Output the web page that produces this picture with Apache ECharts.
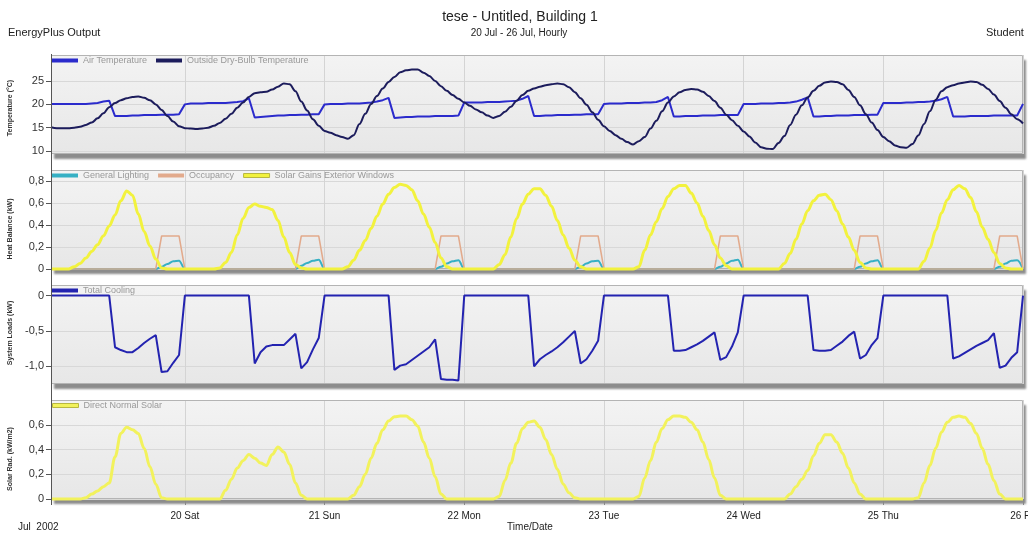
<!DOCTYPE html>
<html><head><meta charset="utf-8">
<script src="https://cdn.jsdelivr.net/npm/echarts@6/dist/echarts.min.js"></script>
<style>html,body{margin:0;padding:0;background:#fff}#c{width:1028px;height:534px}</style>
</head><body><div id="c"></div>
<script>
// ---- tick labels / categories ----
const dayLabels = ['20 Sat','21 Sun','22 Mon','23 Tue','24 Wed','25 Thu','26 Fri'];
const hours = []; for (let i = 1; i <= 168; i++) hours.push(String(i));
const tempTicks = [10, 15, 20, 25];
const heatTicks = [0, 0.2, 0.4, 0.6, 0.8];
const coolTicks = [-1, -0.5, 0];
const solarTicks = [0, 0.2, 0.4, 0.6];

// ---- series values (hourly, 7 days x 24) ----
const airTemperature = [
 20.1,20.1,20.1,20.1,20.1,20.1,20.1,20.2,20.3,20.6,20.8,17.5,17.5,17.5,17.6,17.6,17.7,17.7,17.7,17.8,17.8,17.8,17.9,20.0,
 20.2,20.2,20.2,20.3,20.3,20.3,20.3,20.4,20.5,20.7,21.3,17.2,17.3,17.4,17.5,17.6,17.6,17.7,17.7,17.8,17.8,17.9,17.9,20.0,
 20.1,20.1,20.1,20.2,20.2,20.2,20.3,20.4,20.6,20.9,21.4,17.1,17.2,17.3,17.3,17.4,17.4,17.4,17.5,17.5,17.5,17.5,17.6,20.4,
 20.4,20.4,20.4,20.5,20.5,20.5,20.6,20.7,20.8,21.2,21.8,17.5,17.5,17.6,17.6,17.7,17.7,17.7,17.8,17.8,17.9,17.9,17.9,20.1,
 20.2,20.2,20.2,20.3,20.3,20.3,20.4,20.4,20.5,20.9,21.6,17.4,17.4,17.5,17.5,17.5,17.6,17.6,17.6,17.7,17.7,17.7,17.7,20.1,
 20.1,20.1,20.2,20.2,20.2,20.3,20.3,20.4,20.6,21.0,21.5,17.4,17.4,17.5,17.5,17.6,17.6,17.6,17.7,17.7,17.7,17.8,17.8,20.3,
 20.3,20.3,20.3,20.4,20.4,20.5,20.5,20.6,20.8,21.1,21.6,17.4,17.4,17.4,17.5,17.5,17.5,17.5,17.6,17.6,17.6,17.6,17.6,20.1
];
const outsideDryBulb = [
 15.1,14.9,14.9,14.9,15.0,15.2,15.6,16.1,17.0,18.1,19.4,20.3,20.9,21.3,21.6,21.7,21.4,20.9,20.0,18.8,17.5,16.3,15.3,14.9,
 14.8,14.7,14.8,15.0,15.4,16.0,16.9,18.0,19.3,20.4,21.6,22.4,22.6,22.7,23.2,23.8,24.5,24.3,22.8,20.6,18.7,16.8,15.4,14.3,
 13.9,13.4,13.0,12.6,13.4,15.8,18.0,20.1,21.8,23.4,24.8,25.9,26.9,27.3,27.5,27.5,26.8,26.1,25.0,23.9,22.9,22.0,21.2,20.4,
 19.7,18.9,18.3,17.6,17.1,17.5,18.4,19.5,20.8,22.0,22.9,23.4,23.8,24.1,24.3,24.5,24.3,23.7,22.6,21.3,19.9,18.3,16.7,15.3,
 14.3,13.4,12.6,11.9,11.4,12.1,13.0,14.8,16.5,18.5,20.4,21.7,22.6,23.1,23.3,23.2,22.7,21.8,20.7,19.3,17.8,16.6,15.4,14.2,
 13.1,11.8,10.8,10.5,10.4,11.7,13.2,15.6,17.8,19.8,21.5,22.9,24.0,24.7,24.9,24.8,24.3,23.1,21.6,19.8,17.9,16.1,14.5,13.0,
 12.1,11.2,10.8,10.7,11.5,13.3,15.8,18.5,21.0,22.8,23.7,24.1,24.5,24.7,24.9,24.8,24.2,23.3,22.1,20.7,19.3,17.9,16.8,15.9
];
const generalLighting = [
 0,0,0,0,0,0,0,0,0,0,0,0,0,0,0,0,0,0,0,0.02,0.045,0.07,0.075,0,
 0,0,0,0,0,0,0,0,0,0,0,0,0,0,0,0,0,0,0,0.03,0.055,0.075,0.085,0,
 0,0,0,0,0,0,0,0,0,0,0,0,0,0,0,0,0,0,0,0.02,0.05,0.07,0.08,0,
 0,0,0,0,0,0,0,0,0,0,0,0,0,0,0,0,0,0,0,0.02,0.05,0.07,0.075,0,
 0,0,0,0,0,0,0,0,0,0,0,0,0,0,0,0,0,0,0,0.02,0.05,0.075,0.085,0,
 0,0,0,0,0,0,0,0,0,0,0,0,0,0,0,0,0,0,0,0.02,0.05,0.07,0.08,0,
 0,0,0,0,0,0,0,0,0,0,0,0,0,0,0,0,0,0,0,0.02,0.05,0.075,0.08,0
];
const occupancy = [
 0,0,0,0,0,0,0,0,0,0,0,0,0,0,0,0,0,0,0,0.3,0.3,0.3,0.3,0,
 0,0,0,0,0,0,0,0,0,0,0,0,0,0,0,0,0,0,0,0.3,0.3,0.3,0.3,0,
 0,0,0,0,0,0,0,0,0,0,0,0,0,0,0,0,0,0,0,0.3,0.3,0.3,0.3,0,
 0,0,0,0,0,0,0,0,0,0,0,0,0,0,0,0,0,0,0,0.3,0.3,0.3,0.3,0,
 0,0,0,0,0,0,0,0,0,0,0,0,0,0,0,0,0,0,0,0.3,0.3,0.3,0.3,0,
 0,0,0,0,0,0,0,0,0,0,0,0,0,0,0,0,0,0,0,0.3,0.3,0.3,0.3,0,
 0,0,0,0,0,0,0,0,0,0,0,0,0,0,0,0,0,0,0,0.3,0.3,0.3,0.3,0
];
const solarGainsWindows = [
 0,0,0,0,0.02,0.05,0.10,0.16,0.22,0.30,0.39,0.49,0.62,0.71,0.67,0.50,0.34,0.21,0.09,0.01,0,0,0,0,
 0,0,0,0,0,0.01,0.06,0.15,0.31,0.46,0.56,0.59,0.57,0.56,0.54,0.44,0.29,0.15,0.04,0.01,0,0,0,0,
 0,0,0,0.02,0.08,0.17,0.26,0.37,0.48,0.59,0.68,0.74,0.77,0.76,0.72,0.62,0.50,0.38,0.24,0.10,0.02,0,0,0,
 0,0,0,0,0,0.04,0.13,0.29,0.46,0.59,0.68,0.73,0.73,0.67,0.57,0.44,0.31,0.19,0.08,0.02,0,0,0,0,
 0,0,0,0,0,0.02,0.17,0.31,0.43,0.55,0.66,0.73,0.76,0.76,0.69,0.60,0.48,0.35,0.22,0.10,0.03,0,0,0,
 0,0,0,0,0,0,0.05,0.14,0.27,0.41,0.53,0.62,0.67,0.68,0.63,0.53,0.41,0.29,0.17,0.06,0.01,0,0,0,
 0,0,0,0,0,0,0.07,0.19,0.35,0.51,0.63,0.72,0.76,0.73,0.65,0.52,0.38,0.27,0.15,0.05,0.01,0,0,0
];
const totalCooling = [
 0,0,0,0,0,0,0,0,0,0,0,-0.73,-0.77,-0.80,-0.80,-0.74,-0.67,-0.61,-0.56,-1.08,-1.07,-0.95,-0.84,0,
 0,0,0,0,0,0,0,0,0,0,0,-0.96,-0.80,-0.72,-0.70,-0.70,-0.70,-0.62,-0.54,-1.03,-0.94,-0.76,-0.60,0,
 0,0,0,0,0,0,0,0,0,0,0,-1.05,-0.99,-0.97,-0.91,-0.85,-0.79,-0.73,-0.62,-1.18,-1.19,-1.19,-1.20,0,
 0,0,0,0,0,0,0,0,0,0,0,-1.00,-0.90,-0.84,-0.79,-0.73,-0.66,-0.58,-0.50,-0.96,-0.90,-0.78,-0.64,0,
 0,0,0,0,0,0,0,0,0,0,0,-0.78,-0.78,-0.77,-0.73,-0.69,-0.64,-0.58,-0.52,-0.91,-0.87,-0.72,-0.52,0,
 0,0,0,0,0,0,0,0,0,0,0,-0.77,-0.78,-0.78,-0.77,-0.71,-0.65,-0.57,-0.51,-0.89,-0.84,-0.70,-0.60,0,
 0,0,0,0,0,0,0,0,0,0,0,-0.89,-0.86,-0.81,-0.76,-0.71,-0.67,-0.63,-0.53,-1.02,-0.99,-0.88,-0.80,0
];
const directNormalSolar = [
 0,0,0,0,0,0,0.01,0.04,0.065,0.10,0.13,0.34,0.53,0.58,0.56,0.53,0.41,0.26,0.12,0.01,0,0,0,0,
 0,0,0,0,0,0,0.07,0.16,0.25,0.31,0.36,0.33,0.29,0.27,0.36,0.42,0.38,0.28,0.13,0.03,0,0,0,0,
 0,0,0,0,0.03,0.10,0.20,0.33,0.45,0.56,0.63,0.665,0.67,0.67,0.64,0.59,0.46,0.33,0.18,0.04,0,0,0,0,
 0,0,0,0,0,0.02,0.15,0.29,0.45,0.57,0.62,0.63,0.58,0.48,0.36,0.24,0.12,0.05,0.01,0,0,0,0,0,
 0,0,0,0,0,0.02,0.17,0.31,0.46,0.57,0.64,0.67,0.67,0.66,0.62,0.56,0.46,0.32,0.17,0.03,0,0,0,0,
 0,0,0,0,0,0,0,0.04,0.10,0.16,0.23,0.35,0.45,0.52,0.52,0.46,0.37,0.25,0.13,0.04,0,0,0,0,
 0,0,0,0,0,0.01,0.13,0.27,0.41,0.54,0.62,0.66,0.67,0.66,0.61,0.53,0.41,0.28,0.15,0.04,0,0,0,0
];

// ---- layout ----
const FONT = '"Liberation Sans", Arial, Helvetica, sans-serif';
const PANEL_LEFT = 51, PANEL_RIGHT = 5, PANEL_H = 99, CHART_W = 1028;
const panelTops = [55, 170, 285, 400];

const chart = echarts.init(document.getElementById('c'), null, {renderer: 'canvas'});
const dayTick = (idx) => (idx + 1) % 24 === 0;
const commaFmt = (v) => v === 0 ? '0' : v.toFixed(1).replace('.', ',');

const grids = panelTops.map(t => ({
  left: PANEL_LEFT, right: PANEL_RIGHT, top: t, height: PANEL_H, show: true,
  outerBoundsMode: 'none', containLabel: false,
  backgroundColor: new echarts.graphic.LinearGradient(0, 0, 0, 1, [
    {offset: 0, color: '#f3f3f3'}, {offset: 1, color: '#e7e7e7'}]),
  borderWidth: 0,
  shadowColor: 'rgba(0,0,0,0.45)', shadowBlur: 2, shadowOffsetX: 3, shadowOffsetY: 5
}));

const xAxes = [0, 1, 2, 3].map(i => ({
  type: 'category', gridIndex: i, data: hours, boundaryGap: false,
  axisLine: {show: false},
  axisTick: {show: i === 3, interval: dayTick, length: 6, lineStyle: {color: '#888'}},
  axisLabel: {show: i === 3, interval: dayTick, margin: 12, fontSize: 10, color: '#222', fontFamily: FONT,
              formatter: (v, idx) => dayLabels[Math.floor(idx / 24)]},
  splitLine: {show: true, interval: dayTick, lineStyle: {color: '#d4d4d4', width: 1}}
}));

function yAxis(i, min, max, ticks, fmt) {
  return {
    type: 'value', gridIndex: i, min: min, max: max,
    axisLine: {show: false},
    axisTick: {show: true, length: 5, customValues: ticks, lineStyle: {color: '#555'}},
    axisLabel: {customValues: ticks, formatter: fmt, fontSize: 11, color: '#333', margin: 7, fontFamily: FONT},
    splitLine: {show: true, lineStyle: {color: '#d8d8d8', width: 1}}
  };
}
const yAxes = [
  yAxis(0, 9.35, 30.6, tempTicks, v => String(v)),
  yAxis(1, 0, 0.9, heatTicks, commaFmt),
  yAxis(2, -1.25, 0.15, coolTicks, commaFmt),
  yAxis(3, 0, 0.8, solarTicks, commaFmt)
];

function line(name, data, idx, color, width, smooth) {
  return {
    name: name, type: 'line', xAxisIndex: idx, yAxisIndex: idx, data: data,
    showSymbol: false, symbol: 'none', smooth: smooth ? 0.35 : false, smoothMonotone: 'x',
    clip: false, lineStyle: {color: color, width: width}, itemStyle: {color: color}
  };
}

const legendBase = {
  icon: 'rect', itemWidth: 26, itemHeight: 4, itemGap: 9, left: 52, padding: 0,
  textStyle: {color: '#999', fontSize: 9, fontFamily: FONT}
};

// panel borders (layout decoration, same constants as grids)
const borders = panelTops.map(t => ({
  type: 'rect', z: 1,
  shape: {x: PANEL_LEFT + 0.5, y: t + 0.5, width: CHART_W - PANEL_LEFT - PANEL_RIGHT - 1, height: PANEL_H - 1},
  style: {fill: null, stroke: '#b4b4b4', lineWidth: 1}
}));

chart.setOption({
  animation: false,
  backgroundColor: '#ffffff',
  grid: grids,
  xAxis: xAxes,
  yAxis: yAxes,
  legend: [
    Object.assign({}, legendBase, {top: 56, data: ['Air Temperature', 'Outside Dry-Bulb Temperature']}),
    Object.assign({}, legendBase, {top: 171, data: ['General Lighting', 'Occupancy',
      {name: 'Solar Gains Exterior Windows', itemStyle: {borderColor: '#b8b840', borderWidth: 1}}]}),
    Object.assign({}, legendBase, {top: 286, data: ['Total Cooling']}),
    Object.assign({}, legendBase, {top: 401, data: [
      {name: 'Direct Normal Solar', itemStyle: {borderColor: '#b8b840', borderWidth: 1}}]})
  ],
  series: [
    line('Air Temperature', airTemperature, 0, '#2b2bcc', 2, false),
    line('Outside Dry-Bulb Temperature', outsideDryBulb, 0, '#1c1c5c', 2, true),
    line('General Lighting', generalLighting, 1, '#36b0c4', 2, true),
    line('Occupancy', occupancy, 1, '#e2aa8c', 1.5, false),
    line('Solar Gains Exterior Windows', solarGainsWindows, 1, '#f2f23e', 3, true),
    line('Total Cooling', totalCooling, 2, '#2323b0', 2, false),
    line('Direct Normal Solar', directNormalSolar, 3, '#f2f25c', 3, true)
  ],
  graphic: borders.concat([
    {type: 'line', z: 10, shape: {x1: 51.5, y1: 54, x2: 51.5, y2: 505}, style: {stroke: '#555', lineWidth: 1}},
    {type: 'text', x: 520, y: 17, style: {text: 'tese - Untitled, Building 1', align: 'center', verticalAlign: 'middle',
      fontSize: 14, fontFamily: FONT, fill: '#222'}},
    {type: 'text', x: 8, y: 33, style: {text: 'EnergyPlus Output', align: 'left', verticalAlign: 'middle',
      fontSize: 11, fontFamily: FONT, fill: '#222'}},
    {type: 'text', x: 519, y: 33, style: {text: '20 Jul - 26 Jul, Hourly', align: 'center', verticalAlign: 'middle',
      fontSize: 10, fontFamily: FONT, fill: '#222'}},
    {type: 'text', x: 986, y: 33, style: {text: 'Student', align: 'left', verticalAlign: 'middle',
      fontSize: 11, fontFamily: FONT, fill: '#222'}},
    {type: 'text', x: 530, y: 527, style: {text: 'Time/Date', align: 'center', verticalAlign: 'middle',
      fontSize: 10, fontFamily: FONT, fill: '#222'}},
    {type: 'text', x: 18, y: 527, style: {text: 'Jul  2002', align: 'left', verticalAlign: 'middle',
      fontSize: 10, fontFamily: FONT, fill: '#222'}},
    {type: 'text', x: 10, y: 108, rotation: Math.PI / 2, style: {text: 'Temperature (°C)', align: 'center',
      verticalAlign: 'middle', fontSize: 7, fontWeight: 'bold', fontFamily: FONT, fill: '#333'}},
    {type: 'text', x: 10, y: 229, rotation: Math.PI / 2, style: {text: 'Heat Balance (kW)', align: 'center',
      verticalAlign: 'middle', fontSize: 7, fontWeight: 'bold', fontFamily: FONT, fill: '#333'}},
    {type: 'text', x: 10, y: 333, rotation: Math.PI / 2, style: {text: 'System Loads (kW)', align: 'center',
      verticalAlign: 'middle', fontSize: 7, fontWeight: 'bold', fontFamily: FONT, fill: '#333'}},
    {type: 'text', x: 10, y: 459, rotation: Math.PI / 2, style: {text: 'Solar Rad. (kW/m2)', align: 'center',
      verticalAlign: 'middle', fontSize: 7, fontWeight: 'bold', fontFamily: FONT, fill: '#333'}}
  ])
});
</script>
</body></html>
